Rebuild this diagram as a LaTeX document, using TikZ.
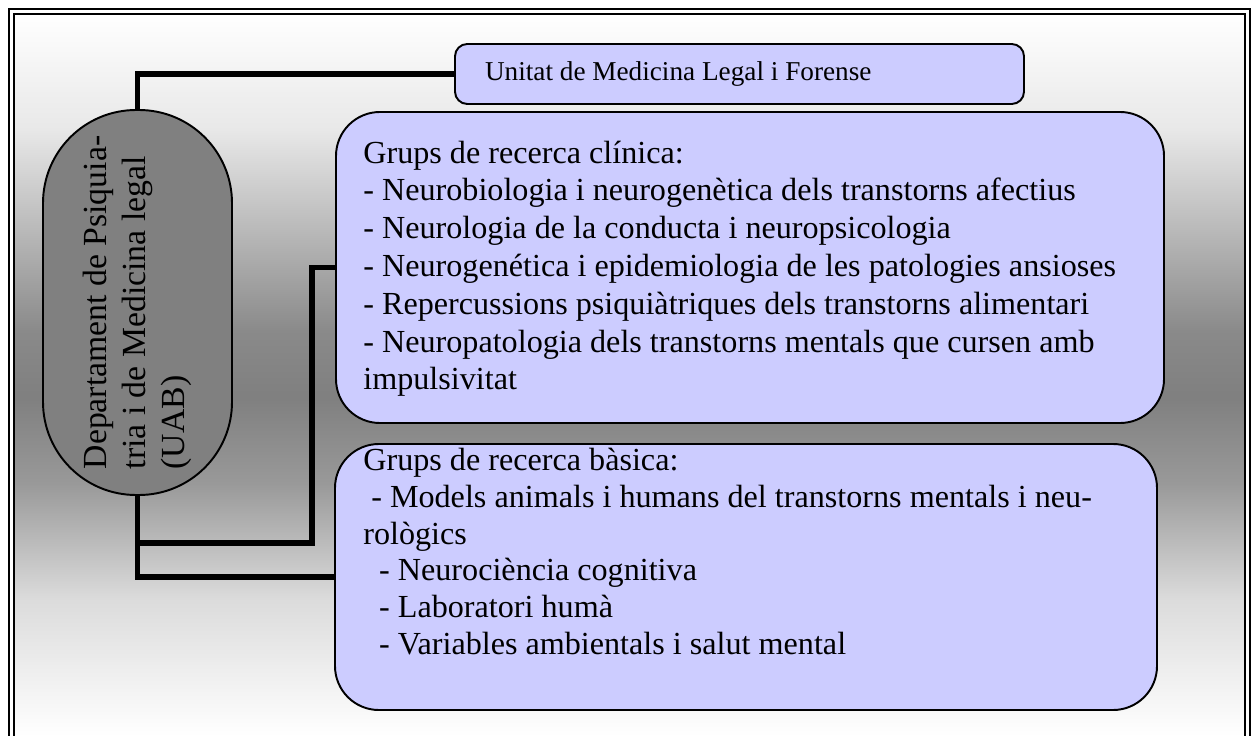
\documentclass[tikz,border=0pt]{standalone}
\usepackage{fontspec}
\setmainfont{Liberation Serif}
\usepackage{tikz}
\definecolor{lilac1}{HTML}{ccccff}
\definecolor{gray5}{HTML}{808080}
\pgfdeclareverticalshading{bggrad}{100bp}{color(0bp)=(white); color(25bp)=(white);
  color(34.5bp)=(black!14); color(42.5bp)=(black!40); color(48.5bp)=(black!50);
  color(53bp)=(black!46); color(67bp)=(black!9); color(75bp)=(white); color(100bp)=(white)}

\begin{document}
\begin{tikzpicture}[x=0.02cm, y=-0.02cm,
  every node/.style={font=\fontsize{18.3}{21.5}\selectfont},
  box/.style={draw, fill=lilac1, line width=1.1pt},
  link/.style={line width=3.4pt},
  txt/.style={anchor=north west, inner sep=0pt, align=left}]
\useasboundingbox (0,0) rectangle (1253,736);
\shade[shading=bggrad] (14,14) rectangle (1245,736);
\draw[line width=1.5pt] (9,736) -- (9,9) -- (1250,9) -- (1250,736);
\draw[line width=1pt] (14,736) -- (14,14) -- (1245,14) -- (1245,736);

% department
\node[draw, fill=gray5, line width=1.1pt, rotate=90, minimum width=385*0.02cm,
  minimum height=189*0.02cm, rounded corners=53pt, align=left,
  font=\fontsize{19.2}{22.1}\selectfont] (dept) at (137.5,302.5)
  {Departament de Psiquia-\\tria i de Medicina legal\\(UAB)};

% units and groups
\node[box, rounded corners=7pt, minimum height=60*0.02cm, inner xsep=30*0.02cm,
  text width=509*0.02cm, align=flush left, font=\fontsize{15.5}{18}\selectfont]
  (legal) at (739.5,74) {Unitat de Medicina Legal i Forense};
\node[box, rounded corners=25pt, minimum width=828*0.02cm, minimum height=311*0.02cm] (clinic) at (750,267.5) {};
\node[box, rounded corners=25pt, minimum width=822*0.02cm, minimum height=266*0.02cm] (basic) at (746,577) {};

\node[txt] (clinictxt) at (363,133) {\rule{0pt}{17pt}Grups de recerca clínica:\\
- Neurobiologia i neurogenètica dels transtorns afectius\\
- Neurologia de la conducta i neuropsicologia\\
- Neurogenética i epidemiologia de les patologies ansioses\\
- Repercussions psiquiàtriques dels transtorns alimentari\\
- Neuropatologia dels transtorns mentals que cursen amb\\
impulsivitat};
\node[txt, font=\fontsize{18.3}{21}\selectfont] (basictxt) at (363,440) {\rule{0pt}{17pt}Grups de recerca bàsica:\\
\hspace*{4.5pt}- Models animals i humans del transtorns mentals i neu-\\
rològics\\
\hspace*{9pt}- Neurociència cognitiva\\
\hspace*{9pt}- Laboratori humà\\
\hspace*{9pt}- Variables ambientals i salut mental};

% connectors
\coordinate (bend) at (312,543);
\draw[link] (dept.east) |- (legal.west);
\draw[link] (clinic.west) -| (bend) -| (dept.west);
\draw[link] (dept.west) |- (basic.west);
\end{tikzpicture}
\end{document}
